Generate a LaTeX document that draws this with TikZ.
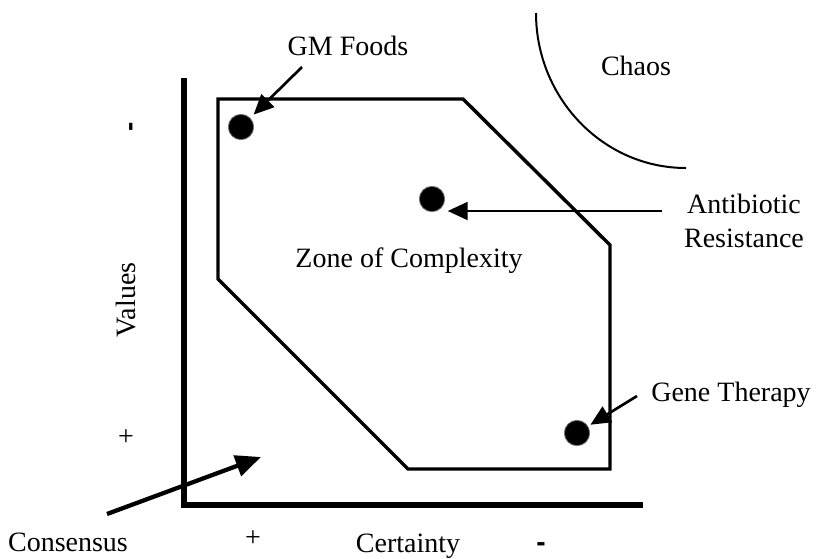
\documentclass[tikz,border=0pt]{standalone}
\usepackage{fontspec}
\setmainfont{Liberation Serif}
\newfontfamily\dashfont{Liberation Sans}
\usetikzlibrary{arrows.meta}
\tikzset{
  txt/.style={font=\fontsize{21}{25.5}\selectfont, inner sep=0pt},
  dashtxt/.style={font=\dashfont\bfseries\fontsize{21}{25.5}\selectfont, inner sep=0pt},
  spot/.style={circle, fill=black, draw=black!55, line width=0.6pt, minimum size=19pt, inner sep=0pt},
  axis/.style={line width=4.1pt},
  zone/.style={line width=2.6pt},
  pointer/.style={line width=2pt, -{Triangle[length=15pt,width=13.5pt]}},
}
\begin{document}
\begin{tikzpicture}[x=0.75pt,y=-0.75pt]
\useasboundingbox (0,0) rectangle (817,558);

% axes
\coordinate(vtop) at (184,78);
\coordinate(origin) at (184,505);
\coordinate(hend) at (643,505);
\draw[axis] (vtop) -- (origin) -- (hend);

% zone of complexity
\coordinate(z1) at (218,99);
\coordinate(z2) at (463,99);
\coordinate(z3) at (610,245);
\coordinate(z4) at (610,469);
\coordinate(z5) at (408,469);
\coordinate(z6) at (218,279);
\draw[zone] (z1) -- (z2) -- (z3) -- (z4) -- (z5) -- (z6) -- cycle;

% chaos
\draw[line width=1.5pt] (536,13) .. controls (536,98) and (603,168) .. (686,168);

% issues
\node(gm) at (241,127)[spot] {};
\node(ab) at (432,199)[spot] {};
\node(gt) at (577,433)[spot] {};

% texts
\node(gmtext) at (348,55)[txt,anchor=base]          {GM Foods};
\node(chaos) at (636,75)[txt,anchor=base]           {Chaos};
\node(abtext) at (744,220.5)[txt,align=center]      {Antibiotic\\Resistance};
\node(zone) at (409,267)[txt,anchor=base]           {Zone of Complexity};
\node(gttext) at (731,401)[txt,anchor=base]         {Gene Therapy};
\node(consensus) at (68,551)[txt,anchor=base]       {Consensus};
\node(certainty) at (408,552)[txt,anchor=base]      {Certainty};
\node(values) at (135,300)[txt,anchor=base,rotate=90] {Values};
\node(cplus) at (253,539)[txt]                      {+};
\node(cminus) at (541,551)[dashtxt,anchor=base]     {-};
\node(vplus) at (126,438)[txt]                      {+};
\node(vminus) at (138,127)[dashtxt,anchor=base,rotate=90] {-};

% pointers
\coordinate(gm0) at (302,67);
\coordinate(ab0) at (662,211);
\coordinate(gt0) at (637,396);
\coordinate(cs0) at (107,514);
\coordinate(cs1) at (261,457);
\draw[pointer,shorten >=3.5pt] (gm0) -- (gm);
\draw[pointer,line width=1.5pt,shorten >=2pt] (ab0) -- (ab0 -| ab.east);
\draw[pointer,shorten >=2pt] (gt0) -- (gt);
\draw[pointer,line width=3.2pt,-{Triangle[length=19pt,width=16pt]}] (cs0) -- (cs1);

\end{tikzpicture}
\end{document}
